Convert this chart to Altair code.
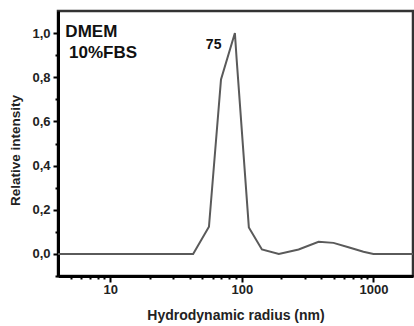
import altair as alt
import pandas as pd

# data
radius = [4, 42.6, 56.2, 69.4, 88.5, 91.3, 113, 142, 191, 270, 383, 497, 646, 840, 1000, 2000]
intensity = [0.0, 0.0, 0.123, 0.79, 1.0, 0.88, 0.12, 0.02, 0.0, 0.02, 0.055, 0.05, 0.03, 0.01, 0.0, 0.0]

x_major = [10, 100, 1000]
x_minor = [5, 6, 7, 8, 9, 20, 30, 40, 50, 60, 70, 80, 90, 200, 300, 400, 500, 600, 700, 800, 900]
y_major = [0.0, 0.2, 0.4, 0.6, 0.8, 1.0]
y_minor = [-0.1, 0.1, 0.3, 0.5, 0.7, 0.9]

legend_text = ["DMEM", "10%FBS"]
legend_x = [4.55, 4.85]
legend_y = [1.005, 0.91]

peak_text = ["75"]
peak_x = [61]
peak_y = [0.945]

df = pd.DataFrame({"r": radius, "i": intensity})
leg = pd.DataFrame({"t": legend_text, "x": legend_x, "y": legend_y})
pk = pd.DataFrame({"t": peak_text, "x": peak_x, "y": peak_y})

FONT = "Liberation Sans"
xs = alt.Scale(type="log", domain=[4, 2000], nice=False)
ys = alt.Scale(domain=[-0.1, 1.1], nice=False, zero=False)

line = alt.Chart(df).mark_line(color="#5a5a5a", strokeWidth=2).encode(
    x=alt.X("r:Q", scale=xs, axis=alt.Axis(
        values=x_major, orient="bottom", tickSize=6, tickWidth=2, tickColor="black",
        domainColor="black", domainWidth=3, labelExpr="format(datum.value, 'd')",
        labelFont=FONT, labelFontWeight="bold", labelFontSize=13, labelColor="#222",
        labelPadding=1, grid=False, title="Hydrodynamic radius (nm)",
        titleFont=FONT, titleFontWeight="bold", titleFontSize=14, titleColor="#222",
        titlePadding=12)),
    y=alt.Y("i:Q", scale=ys, axis=alt.Axis(
        values=y_major, orient="left", tickSize=5, tickWidth=2, tickColor="black",
        domainColor="black", domainWidth=3,
        labelExpr="replace(format(datum.value, '.1f'), '.', ',')",
        labelFont=FONT, labelFontWeight="bold", labelFontSize=13, labelColor="#222",
        labelPadding=3, grid=False, title="Relative intensity",
        titleFont=FONT, titleFontWeight="bold", titleFontSize=13.5, titleColor="#222",
        titlePadding=9, titleY=139)),
)

minor = alt.Chart(df).mark_line(opacity=0).encode(
    x=alt.X("r:Q", scale=xs, axis=alt.Axis(
        values=x_minor, orient="bottom", tickSize=3, tickWidth=2, tickColor="black",
        domain=False, labels=False, grid=False, title=None)),
    y=alt.Y("i:Q", scale=ys, axis=alt.Axis(
        values=y_minor, orient="left", tickSize=3, tickWidth=2, tickColor="black",
        domain=False, labels=False, grid=False, title=None)),
)

legend_marks = alt.Chart(leg).mark_text(
    font=FONT, fontWeight="bold", baseline="middle", align="left", fontSize=17, color="#111"
).encode(
    x=alt.X("x:Q", scale=xs, axis=None),
    y=alt.Y("y:Q", scale=ys, axis=None),
    text="t:N",
)

peak_marks = alt.Chart(pk).mark_text(
    font=FONT, fontWeight="bold", baseline="middle", align="center", fontSize=14, color="#111"
).encode(
    x=alt.X("x:Q", scale=xs, axis=None),
    y=alt.Y("y:Q", scale=ys, axis=None),
    text="t:N",
)

chart = alt.layer(line, minor, legend_marks, peak_marks).resolve_axis(
    x="independent", y="independent"
).properties(
    width=355, height=265,
    padding={"left": 58, "top": 11, "right": 1, "bottom": 50},
    autosize=alt.AutoSizeParams(type="none"),
    background="white",
).configure_view(stroke="#333333", strokeWidth=2.5)

chart.save("out.html", embed_options={"renderer": "svg", "actions": False})
